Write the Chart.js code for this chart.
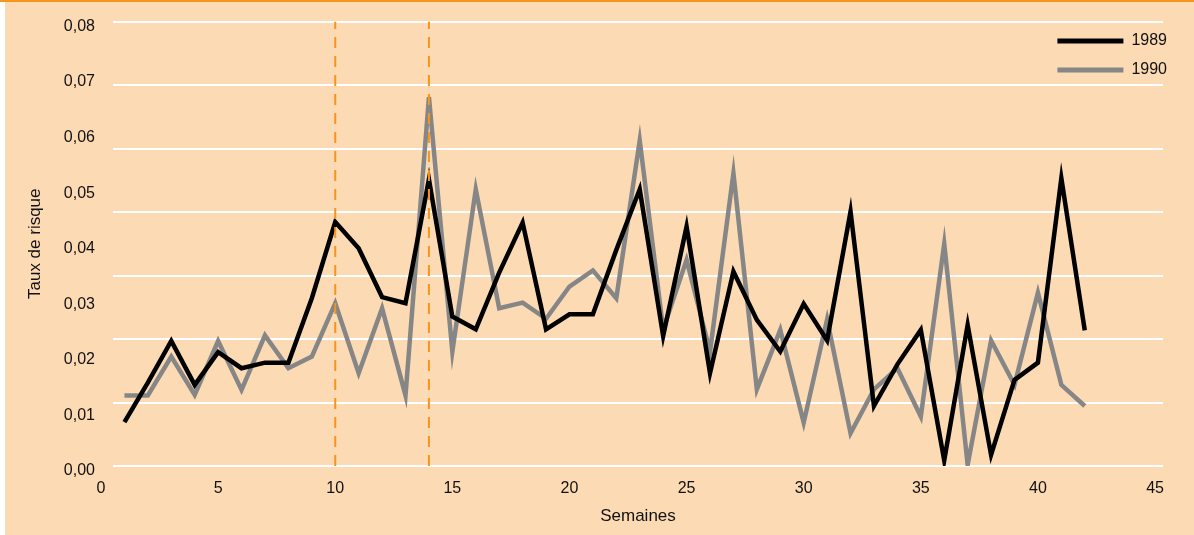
<!DOCTYPE html>
<html><head><meta charset="utf-8">
<script src="https://cdn.jsdelivr.net/npm/chart.js@4.4.1/dist/chart.umd.min.js"></script>
<style>
html,body{margin:0;padding:0;background:#fff;}
#frame{position:absolute;left:0;top:0;width:1194px;height:535px;border-top:2px solid #F7941D;box-sizing:border-box;}
#wrap{position:absolute;left:5px;top:0;width:1189px;height:533px;background:#FCDAB4;}
canvas{display:block;}
</style></head><body>
<div id="frame"><div id="wrap"><canvas id="c" width="1189" height="533"></canvas></div></div>
<script>
const weeks = [1,2,3,4,5,6,7,8,9,10,11,12,13,14,15,16,17,18,19,20,21,22,23,24,25,26,27,28,29,30,31,32,33,34,35,36,37,38,39,40,41,42];
const rate1989 = [0.0079,0.0150,0.0225,0.0146,0.0205,0.0176,0.0186,0.0186,0.0302,0.0439,0.0392,0.0304,0.0293,0.0516,0.0269,0.0246,0.0348,0.0438,0.0246,0.0273,0.0273,0.0389,0.0498,0.0234,0.0431,0.0167,0.0350,0.0263,0.0206,0.0292,0.0226,0.0458,0.0108,0.0183,0.0245,0.0010,0.0254,0.0020,0.0155,0.0186,0.0518,0.0244];
const rate1990 = [0.0127,0.0127,0.0197,0.0128,0.0225,0.0137,0.0235,0.0176,0.0197,0.0293,0.0167,0.0284,0.0127,0.0664,0.0206,0.0498,0.0284,0.0294,0.0265,0.0323,0.0352,0.0302,0.0586,0.0246,0.0371,0.0206,0.0527,0.0138,0.0245,0.0078,0.0264,0.0059,0.0138,0.0176,0.0089,0.0400,0.0002,0.0226,0.0146,0.0312,0.0146,0.0108];
const seriesNames = ['1989','1990'];
const markerWeeks = [10, 14];
const xTicks = [0,5,10,15,20,25,30,35,40,45];
const yTicks = [0,0.01,0.02,0.03,0.04,0.05,0.06,0.07,0.08];
const yTickLabels = ['0,00','0,01','0,02','0,03','0,04','0,05','0,06','0,07','0,08'];
const gridValues = [0,0.01,0.02,0.03,0.04,0.05,0.06,0.07];

const FONT = '"Liberation Sans","Arial",sans-serif';
const TXT = '#111111';

const toPts = arr => weeks.map((w,i)=>({x:w,y:arr[i]}));
const markerSets = markerWeeks.map(w => ({
  label: 'm'+w,
  data: [{x:w,y:yTicks[0]},{x:w,y:yTicks[yTicks.length-1]}],
  borderColor:'#F7941D', borderWidth:2, borderDash:[11,8], pointRadius:0, fill:false
}));

const legendMover = {
  id:'legendMover',
  afterLayout(chart){
    const lg = chart.legend, ca = chart.chartArea;
    const w = lg.width;
    lg.left = ca.right - w + 14; lg.right = lg.left + w;
    lg.top = ca.top - 1.5; lg.bottom = ca.bottom;
  }
};
const noPad = (s)=>{ s.paddingTop = 0; s.paddingBottom = 0; s.paddingLeft = 0; s.paddingRight = 0; };

new Chart(document.getElementById('c'), {
  type:'line',
  data:{ datasets:[
    ...markerSets,
    {label:seriesNames[0], data:toPts(rate1989), borderColor:'#000000', backgroundColor:'#000000', borderWidth:4.5, pointRadius:0, tension:0},
    {label:seriesNames[1], data:toPts(rate1990), borderColor:'#868686', backgroundColor:'#868686', borderWidth:4.5, pointRadius:0, tension:0}
  ]},
  plugins:[legendMover],
  options:{
    responsive:false, animation:false, devicePixelRatio:1, events:[],
    layout:{padding:{left:0,right:31,top:19.5,bottom:0}, autoPadding:false},
    plugins:{
      tooltip:{enabled:false},
      legend:{
        position:'chartArea', align:'start',
        labels:{
          boxWidth:66, boxHeight:5, padding:13, color:TXT,
          font:{family:FONT,size:16},
          filter:(item)=>seriesNames.includes(item.text),
          generateLabels:(chart)=>Chart.defaults.plugins.legend.labels.generateLabels(chart).map(it=>({...it, fillStyle:it.strokeStyle, lineWidth:0, lineDash:[]}))
        }
      }
    },
    scales:{
      x:{
        type:'linear', min:0.512, max:45.34,
        afterBuildTicks:(s)=>{ s.ticks = xTicks.map(v=>({value:v})); },
        afterFit:(s)=>{ s.height = 69; noPad(s); },
        grid:{display:false, drawTicks:false}, border:{display:false},
        ticks:{autoSkip:false, maxRotation:0, padding:13, color:TXT, font:{family:FONT,size:16}, callback:(v)=>String(v)},
        title:{display:true, text:'Semaines', color:TXT, font:{family:FONT,size:17}, padding:{top:0,bottom:8}}
      },
      y:{
        type:'linear', position:'left', min:yTicks[0], max:yTicks[yTicks.length-1],
        afterBuildTicks:(s)=>{ s.ticks = yTicks.map(v=>({value:v})); },
        afterFit:(s)=>{ s.width = 108; noPad(s); },
        grid:{display:false, drawTicks:false}, border:{display:false},
        ticks:{padding:18, labelOffset:5, color:TXT, font:{family:FONT,size:16}, callback:(v,i)=>yTickLabels[i]},
        title:{display:true, text:'Taux de risque', color:TXT, font:{family:FONT,size:17}, padding:{top:20,bottom:0}}
      },
      yGrid:{
        type:'linear', position:'left', min:gridValues[0], max:gridValues[gridValues.length-1],
        afterBuildTicks:(s)=>{ s.ticks = gridValues.map(v=>({value:v})); },
        afterFit:(s)=>{ s.width = 0; noPad(s); },
        grid:{color:'#ffffff', lineWidth:2, drawTicks:false}, border:{display:false},
        ticks:{display:false}
      }
    }
  }
});
</script>
</body></html>
